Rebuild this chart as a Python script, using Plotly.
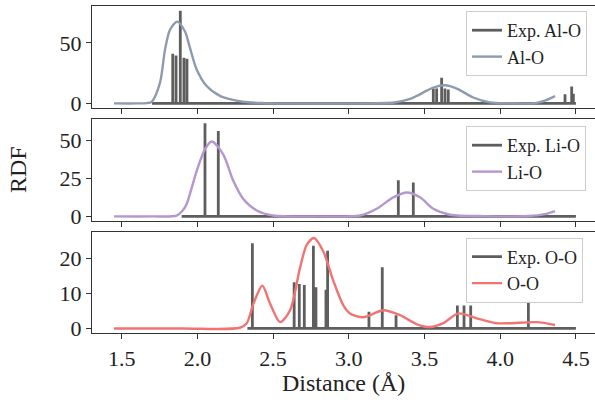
import plotly.graph_objects as go

# ---------------- data ----------------
# Simulated RDF curves
alo_x = [1.449, 1.60, 1.665, 1.698, 1.753, 1.786, 1.819, 1.867, 1.918, 1.951, 1.995, 2.061, 2.149, 2.215,
         2.30, 2.42, 2.6, 3.0, 3.30, 3.40, 3.448, 3.558, 3.635, 3.713, 3.822, 3.932, 4.05, 4.24, 4.30, 4.362]
alo_y = [0, 0, 0.2, 1.3, 17.2, 44.5, 61, 67.7, 59.5, 45.9, 28.1, 14.4, 6.2, 3.5,
         1.4, 0.4, 0, 0, 0.8, 3.5, 6.2, 13, 15, 12.3, 4.9, 0.8, 0.1, 0.4, 2.5, 6.0]

lio_x = [1.449, 1.70, 1.863, 1.90, 1.929, 1.995, 2.05, 2.094, 2.171, 2.237, 2.303, 2.392, 2.50, 2.8,
         3.074, 3.184, 3.294, 3.386, 3.47, 3.558, 3.668, 3.9, 4.19, 4.285, 4.362]
lio_y = [0, 0, 0.5, 3.5, 8.2, 29.7, 44, 49.1, 40.5, 23.3, 11.4, 3.9, 0.6, 0,
         0.6, 5, 12.5, 15.7, 12.5, 5, 1.1, 0.2, 0.3, 1.3, 3.5]

oo_x = [1.449, 1.9, 2.281, 2.326, 2.37, 2.429, 2.48, 2.546, 2.612, 2.678, 2.722, 2.77, 2.832, 2.898,
        2.964, 3.008, 3.096, 3.228, 3.338, 3.45, 3.536, 3.624, 3.723, 3.845, 3.977, 4.065, 4.241, 4.362]
oo_y = [0, 0, 0.2, 1.5, 7.1, 12.2, 7.1, 1.8, 5.2, 17.4, 23.9, 25.9, 22.0, 13.6,
        6.6, 4.3, 3.2, 5.2, 3.8, 1.2, 0.4, 1.5, 4.3, 2.9, 1.5, 1.5, 1.8, 1.0]

# Experimental peak positions / heights
exp_alo_pos = [1.837, 1.859, 1.887, 1.911, 1.931, 3.558, 3.58, 3.613, 3.635, 3.657, 4.428, 4.472, 4.483]
exp_alo_h = [41, 39.6, 76.7, 37.7, 36.9, 12.3, 12.3, 21.3, 12.3, 11.5, 7.6, 13.9, 8.0]
exp_alo_range = [1.70, 4.50]

exp_lio_pos = [2.05, 2.138, 3.327, 3.426]
exp_lio_h = [61, 56, 23.7, 22.2]
exp_lio_range = [1.896, 4.50]

exp_oo_pos = [2.363, 2.639, 2.673, 2.706, 2.766, 2.783, 2.849, 2.86, 3.133, 3.221, 3.312,
              3.717, 3.761, 3.805, 4.186]
exp_oo_h = [24.4, 13.2, 12.7, 12.4, 23.7, 11.8, 11.1, 22.2, 4.8, 17.5, 3.8,
            6.6, 6.6, 6.6, 7.8]
exp_oo_range = [2.33, 4.50]

x_ticks = [1.5, 2.0, 2.5, 3.0, 3.5, 4.0, 4.5]
x_ticklabels = ["1.5", "2.0", "2.5", "3.0", "3.5", "4.0", "4.5"]
y_ticks = [[0, 50], [0, 25, 50], [0, 10, 20]]
y_ranges = [[-3.8, 80.6], [-3.0, 63.8], [-1.3, 27.6]]

names = [("Exp. Al-O", "Al-O"), ("Exp. Li-O", "Li-O"), ("Exp. O-O", "O-O")]
sim_colors = ["#8e9ab0", "#b497cf", "#f07474"]
exp_color = "#5e5e5e"
FONT = "Liberation Serif"


def stick_series(pos, h, rng):
    xs, ys = [rng[0]], [0]
    for p, v in zip(pos, h):
        xs += [p, p, p]
        ys += [0, v, 0]
    xs.append(rng[1])
    ys.append(0)
    return xs, ys


exp_sets = [(exp_alo_pos, exp_alo_h, exp_alo_range),
            (exp_lio_pos, exp_lio_h, exp_lio_range),
            (exp_oo_pos, exp_oo_h, exp_oo_range)]
sim_sets = [(alo_x, alo_y), (lio_x, lio_y), (oo_x, oo_y)]

# ---------------- figure ----------------
W, H = 595, 404
ml, mr, mt, mb = 92, 0, 6, 71
plot_h = H - mt - mb
plot_w = W - ml - mr
bottom_px = H - mb


def dom(top_px, bot_px):
    return [(bottom_px - bot_px) / plot_h, (bottom_px - top_px) / plot_h]


domains = [dom(6, 108), dom(119, 221), dom(232, 333)]
legend_y = [(bottom_px - 11) / plot_h, (bottom_px - 126) / plot_h, (bottom_px - 237.5) / plot_h]
legend_x = (466 - ml) / plot_w

fig = go.Figure()
layout = dict(
    width=W, height=H,
    margin=dict(l=ml, r=mr, t=mt, b=mb, autoexpand=False),
    plot_bgcolor="white", paper_bgcolor="white",
    font=dict(family=FONT, size=22, color="#222222"),
)

for i in range(3):
    ax = "" if i == 0 else str(i + 1)
    lg = "legend" if i == 0 else f"legend{i + 1}"
    ex, ey = stick_series(*exp_sets[i])
    fig.add_trace(go.Scatter(x=ex, y=ey, mode="lines", name=names[i][0],
                             line=dict(color=exp_color, width=2.8),
                             xaxis="x" + ax, yaxis="y" + ax, legend=lg))
    sx, sy = sim_sets[i]
    fig.add_trace(go.Scatter(x=sx, y=sy, mode="lines", name=names[i][1],
                             line=dict(color=sim_colors[i], width=2.4, shape="spline", smoothing=0.8),
                             xaxis="x" + ax, yaxis="y" + ax, legend=lg))
    layout["xaxis" + ax] = dict(
        range=[1.3038, 4.626], domain=[0, 1], anchor="y" + ax, automargin=False,
        tickvals=x_ticks, ticktext=x_ticklabels, showticklabels=(i == 2),
        ticks="outside", ticklen=5, tickwidth=1, tickcolor="#333333",
        showline=True, linecolor="#333333", linewidth=1.2, mirror=True,
        showgrid=False, zeroline=False,
        tickfont=dict(family=FONT, size=22, color="#222222"),
    )
    layout["yaxis" + ax] = dict(
        range=y_ranges[i], domain=domains[i], anchor="x" + ax, automargin=False,
        tickvals=y_ticks[i], ticks="outside", ticklen=5, tickwidth=1, tickcolor="#333333",
        showline=True, linecolor="#333333", linewidth=1.2, mirror=False,
        showgrid=False, zeroline=False,
        tickfont=dict(family=FONT, size=22, color="#222222"),
    )
    layout[lg] = dict(
        x=legend_x, y=legend_y[i], xanchor="left", yanchor="top",
        bgcolor="rgba(255,255,255,0.85)", bordercolor="#cccccc", borderwidth=1,
        font=dict(family=FONT, size=18, color="#222222"),
        tracegroupgap=0, itemwidth=30,
    )

fig.update_layout(**layout)
fig.add_annotation(text="RDF", xref="paper", yref="paper", x=(18 - ml) / plot_w,
                   y=(domains[1][0] + domains[1][1]) / 2,
                   textangle=-90, showarrow=False, font=dict(family=FONT, size=24, color="#222222"),
                   xanchor="center", yanchor="middle")
fig.add_annotation(text="Distance (Å)", xref="paper", yref="paper", x=0.5, y=-(383 - bottom_px) / plot_h,
                   showarrow=False, font=dict(family=FONT, size=24, color="#222222"),
                   xanchor="center", yanchor="middle")

fig.write_html("out.html", config={"displayModeBar": False},
               post_script="document.body.style.margin='0';document.body.style.overflow='hidden';")
